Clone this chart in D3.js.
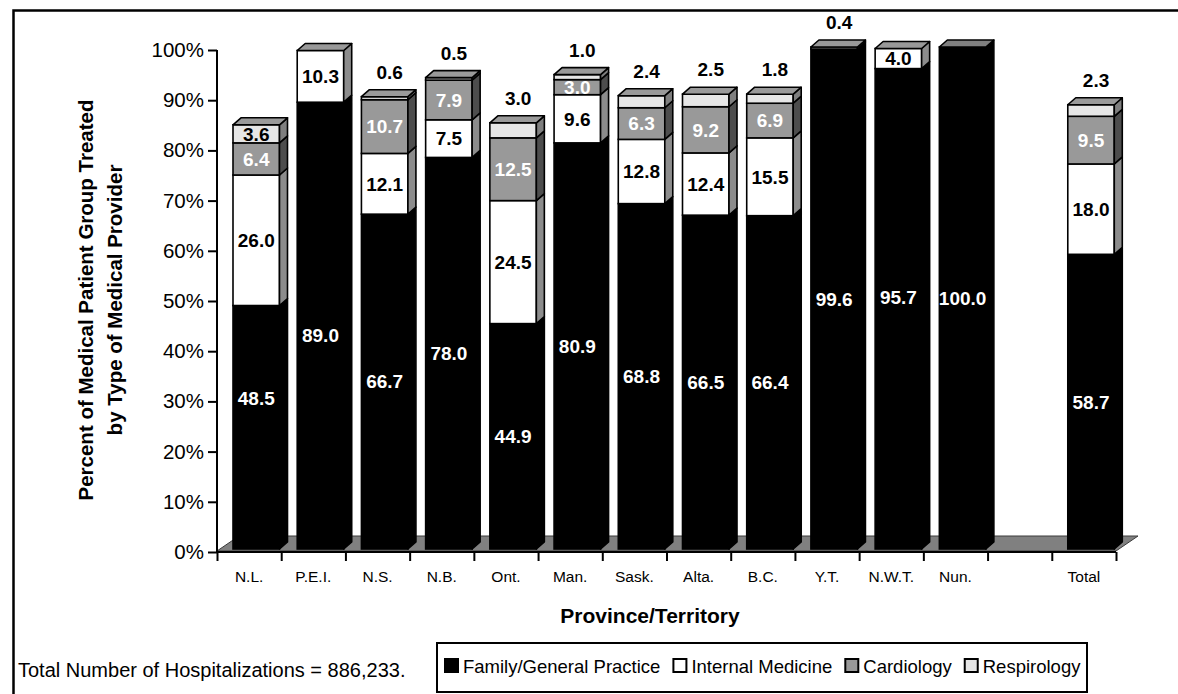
<!DOCTYPE html>
<html>
<head>
<meta charset="utf-8">
<script src="https://cdn.jsdelivr.net/npm/d3@7/dist/d3.min.js"></script>
<style>
  html, body { margin: 0; padding: 0; background: #fff; }
  svg { display: block; font-family: "Liberation Sans", Arial, Helvetica, sans-serif; }
</style>
</head>
<body>
<svg id="chart" width="1178" height="694"></svg>
<script>
// Provinces / territories (the empty slot separates the total column)
const categories = ["N.L.", "P.E.I.", "N.S.", "N.B.", "Ont.", "Man.", "Sask.", "Alta.", "B.C.", "Y.T.", "N.W.T.", "Nun.", "", "Total"];

// Percent of medical patient group treated, by provider type
const familyPractice = [48.5, 89.0, 66.7, 78.0, 44.9, 80.9, 68.8, 66.5, 66.4, 99.6, 95.7, 100.0, null, 58.7];
const internalMedicine = [26.0, 10.3, 12.1, 7.5, 24.5, 9.6, 12.8, 12.4, 15.5, 0.4, 4.0, 0, null, 18.0];
const cardiology = [6.4, 0, 10.7, 7.9, 12.5, 3.0, 6.3, 9.2, 6.9, 0, 0, 0, null, 9.5];
const respirology = [3.6, 0, 0.6, 0.5, 3.0, 1.0, 2.4, 2.5, 1.8, 0, 0, 0, null, 2.3];

const seriesNames = ["Family/General Practice", "Internal Medicine", "Cardiology", "Respirology"];
const seriesValues = [familyPractice, internalMedicine, cardiology, respirology];

const yTicks = [0, 10, 20, 30, 40, 50, 60, 70, 80, 90, 100];
const totalNote = "Total Number of Hospitalizations = 886,233.";

// Hand-placed label shifts (px) for a few family-practice labels
const familyLabelShift = { "N.L.": -29, "P.E.I.": 10, "N.W.T.": -12 };

// Face shading for each provider type
const styles = [
  { front: "#000000", side: "#000000", top: "#7f7f7f", text: "#ffffff" },
  { front: "#ffffff", side: "#8c8c8c", top: "#999999", text: "#000000" },
  { front: "#999999", side: "#4d4d4d", top: "#6e6e6e", text: "#ffffff" },
  { front: "#e6e6e6", side: "#7f7f7f", top: "#9a9a9a", text: "#000000" }
];

const svg = d3.select("#chart");

// outer frame
svg.append("rect")
  .attr("x", 13.5).attr("y", 10.5)
  .attr("width", 1200).attr("height", 720)
  .attr("fill", "none").attr("stroke", "#000").attr("stroke-width", 2.5);

const x = d3.scaleBand().domain(d3.range(categories.length)).range([217, 1116]).paddingInner(0).paddingOuter(0);
const xEdge = d3.scaleLinear().domain([0, categories.length]).range([217, 1116]);
const y = d3.scaleLinear().domain([0, 100]).range([552, 50]);

// 3D geometry
const depthX = 8, depthY = 7;
const frontLift = 3;          // bar fronts sit a little behind the floor edge
const barOffset = 16, barWidth = 46.5;
const yFront = v => y(v) - frontLift;

// floor
const floorDX = 22, floorDY = 15;
svg.append("polygon")
  .attr("points", [
    [xEdge(0), y(0) - 1], [xEdge(categories.length), y(0) - 1],
    [xEdge(categories.length) + floorDX, y(0) - 1 - floorDY], [xEdge(0) + floorDX, y(0) - 1 - floorDY]
  ].map(p => p.join(",")).join(" "))
  .attr("fill", "#808080").attr("stroke", "#3a3a3a").attr("stroke-width", 1);

// y axis
const yAxis = svg.append("g")
  .attr("transform", `translate(${xEdge(0)},0)`)
  .call(d3.axisLeft(y).tickValues(yTicks).tickFormat(d => d + "%").tickSize(9).tickPadding(4));
yAxis.select(".domain").attr("stroke", "#000").attr("stroke-width", 2).attr("d", `M0,${y(100)}V${y(0)}`);
yAxis.selectAll(".tick line").attr("stroke", "#000").attr("stroke-width", 2);
yAxis.selectAll(".tick text")
  .attr("fill", "#000").style("font-size", "20.5px")
  .style("font-family", "'Liberation Sans', Arial, sans-serif");

// x axis: boundary ticks + centred labels
const xAxisLine = svg.append("g").attr("transform", `translate(0,${y(0)})`)
  .call(d3.axisBottom(xEdge).tickValues(d3.range(categories.length + 1)).tickFormat("").tickSize(9));
xAxisLine.select(".domain").attr("stroke", "#000").attr("stroke-width", 2).attr("d", `M${xEdge(0)},0H${xEdge(categories.length)}`);
xAxisLine.selectAll(".tick line").attr("stroke", "#000").attr("stroke-width", 2);

const xLabels = svg.append("g").attr("transform", `translate(0,${y(0)})`)
  .call(d3.axisBottom(x).tickFormat(i => categories[i]).tickSize(0).tickPadding(19));
xLabels.select(".domain").remove();
xLabels.selectAll(".tick text")
  .attr("fill", "#000").style("font-size", "15.5px")
  .style("font-family", "'Liberation Sans', Arial, sans-serif");

// bars
const barsG = svg.append("g");
const labelsG = svg.append("g");

categories.forEach((cat, i) => {
  if (familyPractice[i] == null) return;
  const x0 = x(i) + barOffset, x1 = x0 + barWidth;
  const segs = [];
  let cum = 0;
  seriesValues.forEach((vals, s) => {
    const v = vals[i];
    if (!v) return;
    segs.push({ s, v, lo: cum, hi: cum + v });
    cum += v;
  });
  segs.forEach((seg, k) => {
    const yb = yFront(seg.lo), yt = yFront(seg.hi);
    const st = styles[seg.s];
    barsG.append("rect")
      .attr("x", x0).attr("y", yt).attr("width", barWidth).attr("height", yb - yt)
      .attr("fill", st.front).attr("stroke", "#000").attr("stroke-width", 1.6);
    barsG.append("polygon")
      .attr("points", [[x1, yb], [x1 + depthX, yb - depthY], [x1 + depthX, yt - depthY], [x1, yt]].map(p => p.join(",")).join(" "))
      .attr("fill", st.side).attr("stroke", "#000").attr("stroke-width", 1.6).attr("stroke-linejoin", "round");
    if (k === segs.length - 1) {
      barsG.append("polygon")
        .attr("points", [[x0, yt], [x0 + depthX, yt - depthY], [x1 + depthX, yt - depthY], [x1, yt]].map(p => p.join(",")).join(" "))
        .attr("fill", st.top).attr("stroke", "#000").attr("stroke-width", 1.6).attr("stroke-linejoin", "round");
    }
    // value labels: tiny top segments are labelled above the column
    const isTop = k === segs.length - 1;
    if (isTop && seg.v < 3.5) {
      labelsG.append("text")
        .attr("x", (x0 + x1) / 2 + 5).attr("y", yFront(cum) - 18)
        .attr("text-anchor", "middle").attr("fill", "#000")
        .style("font-size", "19px").style("font-weight", "bold")
        .text(seg.v.toFixed(1));
    } else {
      const shift = seg.s === 0 ? (familyLabelShift[cat] || 0) : 0;
      labelsG.append("text")
        .attr("x", (x0 + x1) / 2).attr("y", (yb + yt) / 2 + shift).attr("dy", "0.36em")
        .attr("text-anchor", "middle").attr("fill", st.text)
        .style("font-size", "19px").style("font-weight", "bold")
        .text(seg.v.toFixed(1));
    }
  });
});

// axis titles
const yTitle = svg.append("g").style("font-size", "20.5px").style("font-weight", "bold");
yTitle.append("text").attr("transform", "translate(93,300) rotate(-90)").attr("text-anchor", "middle")
  .text("Percent of Medical Patient Group Treated");
yTitle.append("text").attr("transform", "translate(122,300) rotate(-90)").attr("text-anchor", "middle")
  .text("by Type of Medical Provider");

svg.append("text").attr("x", 650).attr("y", 623).attr("text-anchor", "middle")
  .style("font-size", "21px").style("font-weight", "bold").text("Province/Territory");

// footnote
svg.append("text").attr("x", 18).attr("y", 677).style("font-size", "20px").text(totalNote);

// legend
const legend = svg.append("g");
legend.append("rect").attr("x", 437).attr("y", 643).attr("width", 650).attr("height", 49)
  .attr("fill", "#fff").attr("stroke", "#000").attr("stroke-width", 2);
let lx = 445;
seriesNames.forEach((name, s) => {
  legend.append("rect").attr("x", lx).attr("y", 659).attr("width", 13).attr("height", 13)
    .attr("fill", styles[s].front).attr("stroke", "#000").attr("stroke-width", 2);
  const t = legend.append("text").attr("x", lx + 18).attr("y", 673)
    .style("font-size", "18.5px").text(name);
  lx = lx + 18 + t.node().getComputedTextLength() + 13;
});
</script>
</body>
</html>
